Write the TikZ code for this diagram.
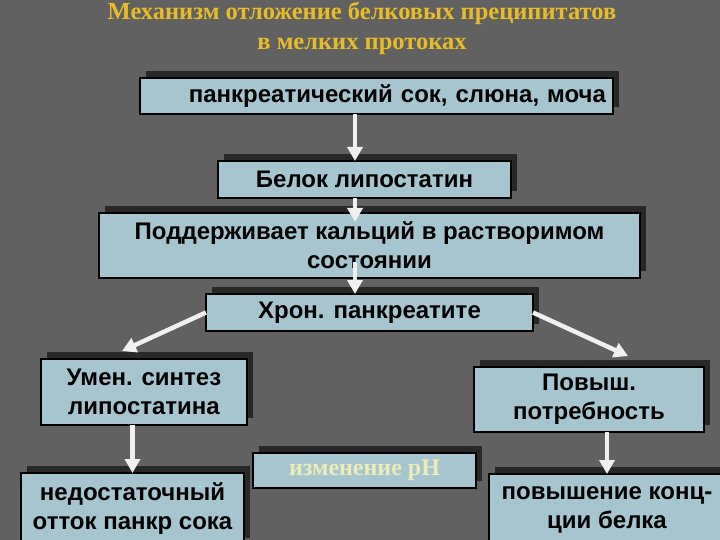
\documentclass[tikz,border=0pt]{standalone}
\usepackage{fontspec}
\setmainfont{Liberation Serif}
\setsansfont{Liberation Sans}
\usetikzlibrary{arrows.meta, positioning, shadows}
\definecolor{slidegray}{RGB}{97,97,97}
\definecolor{boxblue}{RGB}{167,197,206}
\definecolor{shadegray}{RGB}{40,40,40}
\definecolor{titlegold}{RGB}{232,188,40}
\definecolor{phyellow}{RGB}{236,236,184}

\begin{document}
\begin{tikzpicture}[x=1pt, y=-1pt, node distance=16pt,
  every node/.style={font=\sffamily\bfseries\fontsize{24}{29}\selectfont},
  box/.style={draw=black, line width=2.2pt, outer sep=0pt, fill=boxblue, align=center, inner sep=3pt,
    drop shadow={shadow xshift=6pt, shadow yshift=7pt, fill=shadegray, opacity=1}},
  arr/.style={draw=white!94!black, line width=4.5pt, -{Triangle[width=15pt, length=14pt]}}]
  \useasboundingbox (0,0) rectangle (720,540);
  \fill[slidegray] (0,0) rectangle (720,540);
  \node[font=\rmfamily\bfseries\fontsize{24.5}{30}\selectfont, text=titlegold, align=center] (title) at (362,28) {Механизм отложение белковых преципитатов\\в мелких протоках};
  \node[box, text width=459pt, inner xsep=7pt, align=right, minimum height=36pt] (sok) at (376.5,96) {панкреатический сок, слюна, моча};
  \node[box, minimum width=293pt, minimum height=37pt, below=47pt of sok, xshift=-12pt] (lip) {Белок липостатин};
  \node[box, minimum width=541pt, minimum height=65pt, below=15pt of lip, xshift=5pt] (kal) {Поддерживает кальций в растворимом\\состоянии};
  \node[box, minimum width=327pt, minimum height=37pt, below=of kal] (hron) {Хрон. панкреатите};
  \node[box, minimum width=206pt, minimum height=66pt, below=28pt of hron, xshift=-225.5pt] (umen) {Умен. синтез\\липостатина};
  \node[box, minimum width=230pt, minimum height=65pt, below=36pt of hron, xshift=219.5pt] (pov) {Повыш.\\потребность};
  \node[box, minimum width=223pt, minimum height=35pt, below=122pt of hron, xshift=-5pt,
    font=\rmfamily\bfseries\fontsize{24}{28}\selectfont, text=phyellow] (izm) {изменение pH};
  \node[box, minimum width=223pt, minimum height=72pt, below=48pt of umen, xshift=-11.5pt] (ned) {недостаточный\\отток панкр сока};
  \node[box, minimum width=236pt, minimum height=72pt, below=42pt of pov, xshift=18pt] (povk) {повышение конц-\\ции белка};
  \coordinate (mid) at (355,0);
  \draw[arr] (sok.south -| mid) -- (lip.north -| mid);
  \draw[arr] (lip.south -| mid) -- ++(0,24);
  \draw[arr] (kal.south -| mid) ++(0,-16) -- (hron.north -| mid);
  \draw[arr] (hron.west) -- ([xshift=-22pt, yshift=8pt]umen.north);
  \draw[arr] (hron.east) -- ([xshift=39pt, yshift=11pt]pov.north);
  \draw[arr] (umen.south -| ned.north) -- (ned.north);
  \draw[arr] (pov.south -| povk.north) -- (povk.north);
\end{tikzpicture}
\end{document}
